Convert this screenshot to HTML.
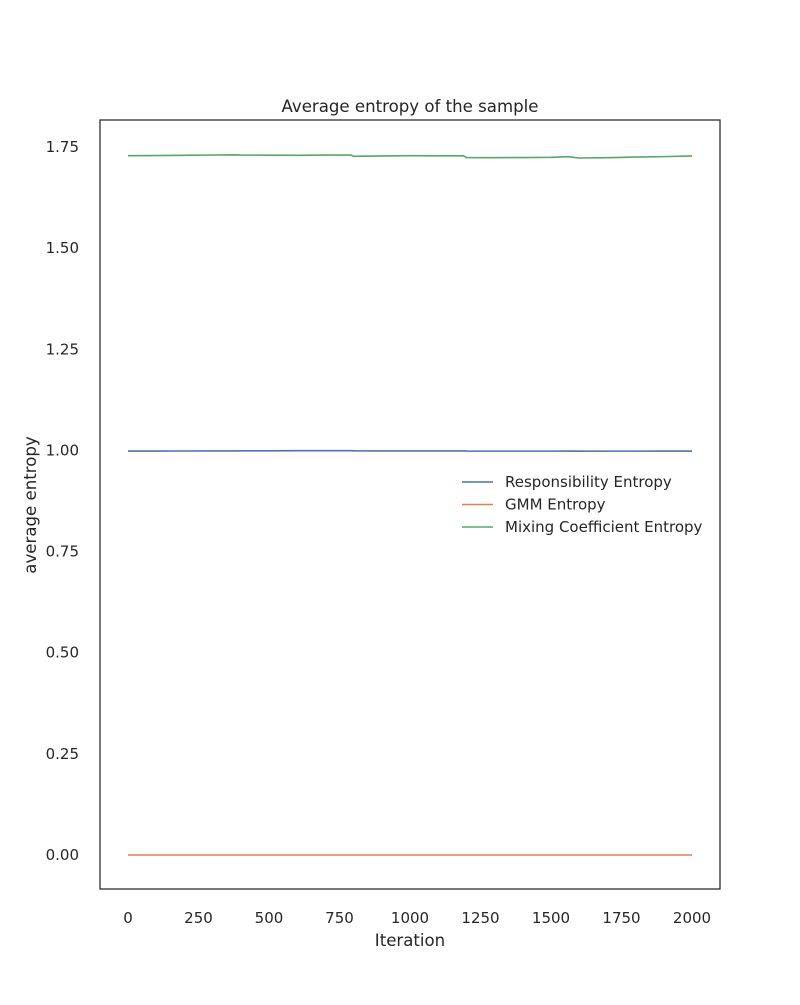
<!DOCTYPE html>
<html><head><meta charset="utf-8"><style>
body{margin:0;background:#fff}
svg text{font-family:"DejaVu Sans","Liberation Sans",sans-serif;fill:#262626}
</style></head><body>
<svg id="c" width="800" height="1000" xmlns="http://www.w3.org/2000/svg">
<rect width="800" height="1000" fill="#fff"/>
<g id="plot"></g>
</svg>
<script>
const iterations=[0,100,200,300,380,400,500,600,700,790,800,900,1000,1100,1190,1200,1300,1400,1500,1560,1600,1700,1800,1900,2000];
const respEntropy=[0.9985,0.9985,0.9986,0.9987,0.9988,0.999,0.9991,0.9993,0.9994,0.9993,0.999,0.9988,0.9987,0.9988,0.9989,0.9984,0.9983,0.9983,0.9983,0.9984,0.9982,0.9983,0.9983,0.9984,0.9985];
const gmmEntropy=[0,0,0,0,0,0,0,0,0,0,0,0,0,0,0,0,0,0,0,0,0,0,0,0,0];
const mixEntropy=[1.7285,1.7288,1.7295,1.7302,1.7308,1.7300,1.7298,1.7295,1.7300,1.7302,1.7270,1.7280,1.7285,1.7283,1.7282,1.7238,1.7236,1.7240,1.7245,1.7260,1.7228,1.7235,1.7250,1.7262,1.7280];
const xTicks=[0,250,500,750,1000,1250,1500,1750,2000];
const yTicks=[0,0.25,0.5,0.75,1.0,1.25,1.5,1.75];
const seriesNames=["Responsibility Entropy","GMM Entropy","Mixing Coefficient Entropy"];
const colors=["#4c72b0","#dd8452","#55a868"];
const L=100,R=720,T=120,B=889;
const xs=v=>128+v*(564/2000);
const ys=v=>855-v*(708/1.75);
const NS="http://www.w3.org/2000/svg";
const g=document.getElementById('plot');
function mk(t,a,txt){const e=document.createElementNS(NS,t);for(const k in a)e.setAttribute(k,a[k]);if(txt!==undefined)e.textContent=txt;g.appendChild(e);return e;}
let e;
e=mk('rect',{x:L,y:T,width:R-L,height:B-T,fill:'none',stroke:'#262626','stroke-width':1.25});


xTicks.forEach(v=>{const t=mk('text',{x:xs(v),y:923,'text-anchor':'middle','font-size':15},String(v));

});
yTicks.forEach(v=>{const t=mk('text',{x:79,y:ys(v)+5,'text-anchor':'end','font-size':15},v.toFixed(2));

});
const data=[respEntropy,gmmEntropy,mixEntropy];
data.forEach((arr,i)=>{const d=arr.map((v,j)=>(j?'L':'M')+xs(iterations[j]).toFixed(2)+','+ys(v).toFixed(2)).join(' ');
const p=mk('path',{d:d,fill:'none',stroke:colors[i],'stroke-width':1.6});

});
e=mk('text',{x:410,y:112,'text-anchor':'middle','font-size':16.6},'Average entropy of the sample');


e=mk('text',{x:410,y:946,'text-anchor':'middle','font-size':16.6},'Iteration');


e=mk('text',{x:36,y:505,'text-anchor':'middle','font-size':16.6,transform:'rotate(-90 36 505)'},'average entropy');


seriesNames.forEach((n,i)=>{const y=482+i*22.5;
const l=mk('line',{x1:462,x2:493,y1:y,y2:y,stroke:colors[i],'stroke-width':1.6});


const t=mk('text',{x:505,y:y+5,'font-size':15},n);

});
</script>
</body></html>
